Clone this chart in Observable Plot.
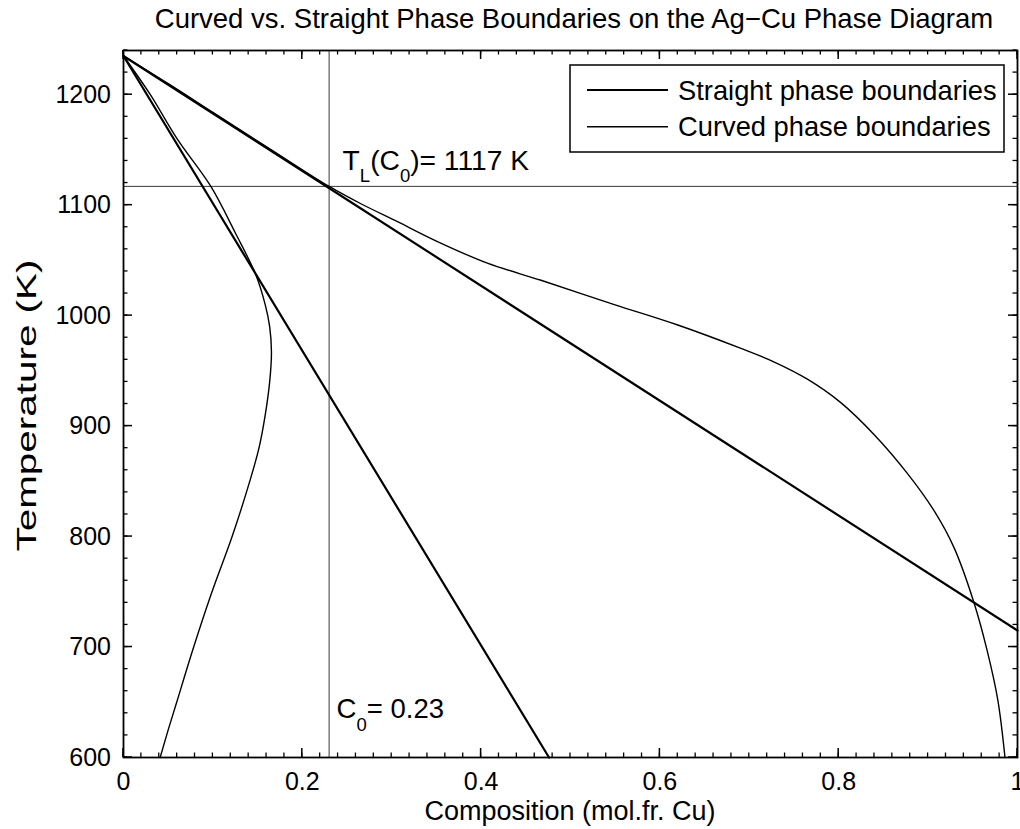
<!DOCTYPE html>
<html><head><meta charset="utf-8">
<script src="https://cdn.jsdelivr.net/npm/d3@7"></script>
<script src="https://cdn.jsdelivr.net/npm/@observablehq/plot@0.6"></script>
<style>
body{margin:0;background:#fff;}
#wrap{position:relative;width:1020px;height:829px;}
</style></head><body><div id="wrap"></div>
<script>
// ---- data ----
const straightLiquidusX = [0, 1];
const straightLiquidusT = [1235, 715];
const straightSolidusX = [0, 0.476];
const straightSolidusT = [1235, 600];
const curvedLiquidusX = [0, 0.05, 0.10, 0.15, 0.20, 0.231, 0.265, 0.3065, 0.35, 0.407, 0.467, 0.549, 0.62, 0.69, 0.728, 0.765, 0.802, 0.84, 0.877, 0.907, 0.929, 0.951, 0.966, 0.978, 0.986];
const curvedLiquidusT = [1235, 1210, 1184, 1158, 1132, 1116.5, 1101.5, 1085, 1067.5, 1047.5, 1032, 1010, 991.5, 970.5, 958, 942.5, 921.5, 892, 857, 823, 790, 741, 697, 652, 600];
const curvedSolidusX = [0, 0.03, 0.06, 0.0977, 0.125, 0.148, 0.1585, 0.1635, 0.1655, 0.1635, 0.1585, 0.1515, 0.1412, 0.1215, 0.099, 0.0785, 0.0595, 0.050, 0.041];
const curvedSolidusT = [1235, 1200, 1160, 1117, 1075, 1037, 1010, 990, 967, 940, 910, 880, 850, 800, 750, 700, 650, 625, 600];
const C0 = 0.23;
const TL = 1117;
const xTicks = [0, 0.2, 0.4, 0.6, 0.8, 1];
const xTickLabels = ["0", "0.2", "0.4", "0.6", "0.8", "1"];
const yTicks = [600, 700, 800, 900, 1000, 1100, 1200];
const yTickLabels = ["600", "700", "800", "900", "1000", "1100", "1200"];
const xMinor = d3.range(0, 51).map(i => i / 50);
const yMinor = d3.range(600, 1241, 20);
const legendLabels = ["Straight phase boundaries", "Curved phase boundaries"];
const titleText = "Curved vs. Straight Phase Boundaries on the Ag\u2212Cu Phase Diagram";
const xLabel = "Composition (mol.fr. Cu)";
const yLabel = "Temperature (K)";

const zip = (X, Y) => X.map((x, i) => ({x, T: Y[i]}));
const W = 1020, H = 829, mt = 50, mb = 72, ml = 123, mr = 3;
const yDom = [600, 1240], xDom = [0, 1];
const FONT = "'Liberation Sans', Arial, Helvetica, sans-serif";
const minorLen = 4.5, majorLen = 9;

const chart = Plot.plot({
  width: W, height: H,
  marginTop: mt, marginBottom: mb, marginLeft: ml, marginRight: mr,
  x: {domain: xDom},
  y: {domain: yDom},
  style: {fontFamily: FONT, background: "white", color: "black"},
  marks: [
    Plot.ruleX([C0], {x: d => d, stroke: "#3a3a3a", strokeWidth: 1}),
    Plot.ruleY([TL], {y: d => d, stroke: "#3a3a3a", strokeWidth: 1}),
    Plot.line(zip(curvedLiquidusX, curvedLiquidusT), {x: "x", y: "T", curve: "catmull-rom", stroke: "black", strokeWidth: 1.4}),
    Plot.line(zip(curvedSolidusX, curvedSolidusT), {x: "x", y: "T", curve: "catmull-rom", stroke: "black", strokeWidth: 1.4}),
    Plot.line(zip(straightLiquidusX, straightLiquidusT), {x: "x", y: "T", stroke: "black", strokeWidth: 2.2}),
    Plot.line(zip(straightSolidusX, straightSolidusT), {x: "x", y: "T", stroke: "black", strokeWidth: 2.2}),
    Plot.axisX(xTicks, {tickSize: 0, tickPadding: 15, fontSize: 25, fill: "black", label: null,
      tickFormat: d => xTickLabels[xTicks.indexOf(d)]}),
    Plot.axisY(yTicks, {tickSize: 0, tickPadding: 12.5, fontSize: 25, fill: "black", label: null,
      tickFormat: d => yTickLabels[yTicks.indexOf(d)]}),
    Plot.frame({stroke: "black", strokeWidth: 1.8})
  ]
});
document.getElementById("wrap").appendChild(chart);

const svg = d3.select(chart);
const sx = chart.scale("x"), sy = chart.scale("y");
const X0 = sx.apply(xDom[0]), X1 = sx.apply(xDom[1]);
const Y0 = sy.apply(yDom[0]), Y1 = sy.apply(yDom[1]);
const midX = (X0 + X1) / 2, midY = (Y0 + Y1) / 2;

// ---- inward ticks on all four sides (positions from the Plot scales) ----
const tg = svg.append("g").attr("stroke", "black").attr("fill", "none");
function xTick(v, len, w) {
  const X = sx.apply(v);
  tg.append("line").attr("x1", X).attr("x2", X).attr("y1", Y0).attr("y2", Y0 - len).attr("stroke-width", w);
  tg.append("line").attr("x1", X).attr("x2", X).attr("y1", Y1).attr("y2", Y1 + len).attr("stroke-width", w);
}
function yTick(v, len, w) {
  const Y = sy.apply(v);
  tg.append("line").attr("y1", Y).attr("y2", Y).attr("x1", X0).attr("x2", X0 + len).attr("stroke-width", w);
  tg.append("line").attr("y1", Y).attr("y2", Y).attr("x1", X1).attr("x2", X1 - len).attr("stroke-width", w);
}
xMinor.forEach(v => xTick(v, minorLen, 1.3));
xTicks.forEach(v => xTick(v, majorLen, 1.5));
yMinor.forEach(v => yTick(v, minorLen, 1.3));
yTicks.forEach(v => yTick(v, majorLen, 1.5));

// ---- title and axis labels ----
svg.append("text").attr("x", midX + 4).attr("y", Y1 - 22)
  .attr("text-anchor", "middle").attr("font-family", FONT).attr("font-size", 27.5)
  .attr("fill", "black").text(titleText);
svg.append("text").attr("x", midX).attr("y", Y0 + 63)
  .attr("text-anchor", "middle").attr("font-family", FONT).attr("font-size", 27)
  .attr("fill", "black").text(xLabel);
svg.append("text").attr("transform", `translate(${X0 - 87},${midY + 2}) rotate(-90)`)
  .attr("text-anchor", "middle").attr("font-family", FONT).attr("font-size", 28)
  .attr("textLength", 292).attr("lengthAdjust", "spacingAndGlyphs")
  .attr("fill", "black").text(yLabel);

// ---- annotations with subscripts ----
const px = sx.apply(C0), py = sy.apply(TL);
function subText(x, y, size, parts) {
  const t = svg.append("text").attr("x", x).attr("y", y).attr("text-anchor", "start")
    .attr("font-family", FONT).attr("font-size", size).attr("fill", "black");
  let shifted = false;
  for (const [s, sub] of parts) {
    const ts = t.append("tspan").text(s);
    if (sub && !shifted) { ts.attr("dy", 12.5).attr("font-size", 18.5); shifted = true; }
    else if (sub) { ts.attr("font-size", 18.5); }
    else if (shifted) { ts.attr("dy", -12.5); shifted = false; }
  }
}
subText(px + 14, py - 16, 28.2, [["T", false], ["L", true], ["(C", false], ["0", true], [")= 1117 K", false]]);
subText(px + 8, Y0 - 38.7, 27.5, [["C", false], ["0", true], ["= 0.23", false]]);

// ---- legend ----
const lg = svg.append("g");
lg.append("rect").attr("x", 570).attr("y", 65).attr("width", 434).attr("height", 87)
  .attr("fill", "white").attr("stroke", "black").attr("stroke-width", 1.5);
const widths = [2.2, 1.4];
legendLabels.forEach((lab, i) => {
  const yy = 90 + i * 36.7;
  lg.append("line").attr("x1", 587).attr("x2", 668).attr("y1", yy).attr("y2", yy)
    .attr("stroke", "black").attr("stroke-width", widths[i]);
  lg.append("text").attr("x", 678).attr("y", yy).attr("dy", "0.35em").attr("text-anchor", "start")
    .attr("font-family", FONT).attr("font-size", 27.3).attr("fill", "black").text(lab);
});
</script></body></html>
